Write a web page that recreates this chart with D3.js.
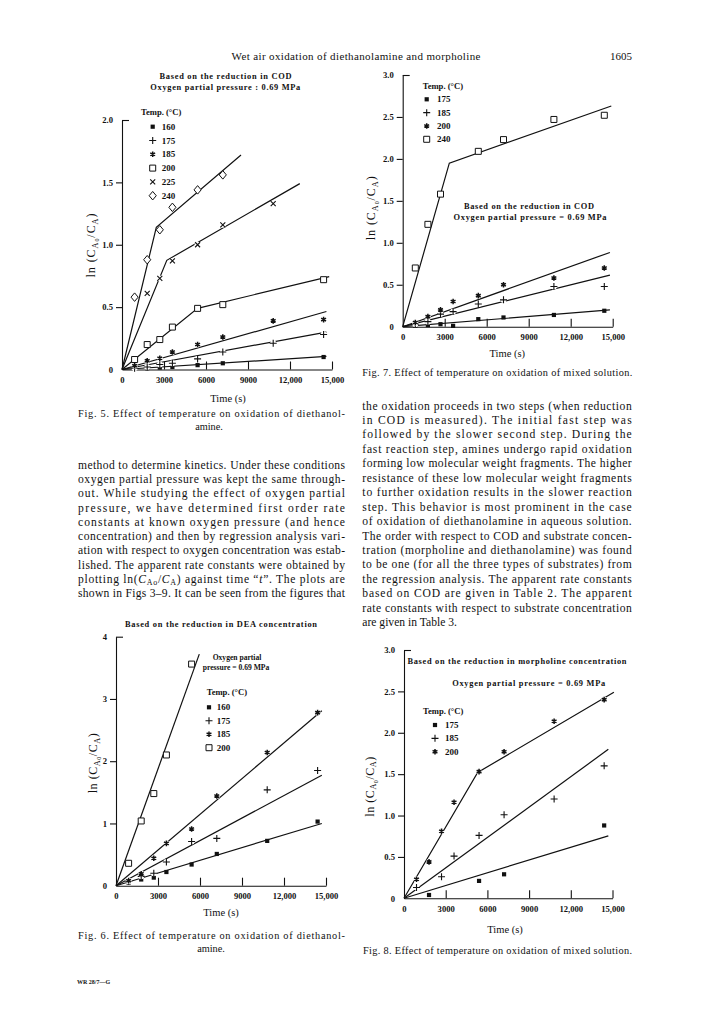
<!DOCTYPE html>
<html>
<head>
<meta charset="utf-8">
<script src="https://cdn.jsdelivr.net/npm/d3@7/dist/d3.min.js"></script>
<style>
  html, body { margin: 0; padding: 0; background: #fff; }
  svg { display: block; font-family: "Liberation Serif", "Times New Roman", serif; }
</style>
</head>
<body>
<svg id="page" width="711" height="1028"></svg>
<script>
// ---------- data (time in s, value = ln(CA0/CA)) ----------
const timeTicks = [0, 3000, 6000, 9000, 12000, 15000];

// Fig. 5 - DEA, COD based
const fig5Temps = ["160", "175", "185", "200", "225", "240"];
const fig5Pts160 = [[900, 0.005], [1800, 0.01], [2700, 0.015], [3600, 0.02], [5400, 0.035], [7200, 0.05], [14400, 0.10]];
const fig5Pts175 = [[900, 0.01], [1800, 0.02], [2700, 0.04], [3600, 0.05], [5400, 0.085], [7200, 0.14], [10800, 0.21], [14400, 0.28]];
const fig5Pts185 = [[900, 0.03], [1800, 0.07], [2700, 0.09], [3600, 0.14], [5400, 0.20], [7200, 0.26], [10800, 0.39], [14400, 0.40]];
const fig5Pts200 = [[900, 0.08], [1800, 0.20], [2700, 0.24], [3600, 0.34], [5400, 0.49], [7200, 0.52], [14400, 0.72]];
const fig5Pts225 = [[1800, 0.61], [2700, 0.73], [3600, 0.87], [5400, 1.00], [7200, 1.16], [10800, 1.33]];
const fig5Pts240 = [[900, 0.58], [1800, 0.88], [2700, 1.12], [3600, 1.30], [5400, 1.44], [7200, 1.56]];
const fig5Fit160 = [[0, 0], [14600, 0.105]];
const fig5Fit175 = [[0, 0], [14600, 0.30]];
const fig5Fit185 = [[0, 0], [14600, 0.465]];
const fig5Fit200 = [[0, 0], [5400, 0.49], [14800, 0.745]];
const fig5Fit225 = [[0, 0], [3200, 0.875], [12700, 1.49]];
const fig5Fit240 = [[0, 0], [2450, 1.14], [8500, 1.72]];

// Fig. 7 - mixed solution, COD based
const fig7Temps = ["175", "185", "200", "240"];
const fig7Pts175 = [[900, 0.01], [1800, 0.02], [2700, 0.03], [3600, 0.01], [5400, 0.09], [7200, 0.11], [10800, 0.14], [14400, 0.19]];
const fig7Pts185 = [[900, 0.03], [1800, 0.06], [2700, 0.15], [3600, 0.18], [5400, 0.27], [7200, 0.32], [10800, 0.48], [14400, 0.48]];
const fig7Pts200 = [[900, 0.05], [1800, 0.12], [2700, 0.20], [3600, 0.30], [5400, 0.37], [7200, 0.50], [10800, 0.58], [14400, 0.70]];
const fig7Pts240 = [[900, 0.70], [1800, 1.22], [2700, 1.58], [5400, 2.09], [7200, 2.23], [10800, 2.47], [14400, 2.52]];
const fig7Fit175 = [[0, 0], [14800, 0.20]];
const fig7Fit185 = [[0, 0], [14800, 0.615]];
const fig7Fit200 = [[0, 0], [14800, 0.885]];
const fig7Fit240 = [[0, 0], [3330, 1.95], [14900, 2.63]];

// Fig. 6 - DEA concentration based
const fig6Temps = ["160", "175", "185", "200"];
const fig6Pts160 = [[900, 0.05], [1800, 0.10], [2700, 0.13], [3600, 0.22], [5400, 0.34], [7200, 0.51], [10800, 0.72], [14400, 1.03]];
const fig6Pts175 = [[900, 0.07], [1800, 0.15], [2700, 0.20], [3600, 0.38], [5400, 0.71], [7200, 0.76], [10800, 1.54], [14400, 1.85]];
const fig6Pts185 = [[900, 0.08], [1800, 0.19], [2700, 0.44], [3600, 0.68], [5400, 0.91], [7200, 1.44], [10800, 2.14], [14400, 2.78]];
const fig6Pts200 = [[900, 0.36], [1800, 1.04], [2700, 1.48], [3600, 2.10], [5400, 3.56]];
const fig6Fit160 = [[0, 0], [14700, 1.00]];
const fig6Fit175 = [[0, 0], [14700, 1.775]];
const fig6Fit185 = [[0, 0], [14700, 2.81]];
const fig6Fit200 = [[0, 0], [5950, 3.72]];

// Fig. 8 - morpholine concentration based
const fig8Temps = ["175", "185", "200"];
const fig8Pts175 = [[1800, 0.04], [5400, 0.21], [7200, 0.29], [14400, 0.88]];
const fig8Pts185 = [[900, 0.13], [2700, 0.26], [3600, 0.51], [5400, 0.76], [7200, 1.01], [10800, 1.20], [14400, 1.60]];
const fig8Pts200 = [[900, 0.23], [1800, 0.44], [2700, 0.81], [3600, 1.16], [5400, 1.53], [7200, 1.77], [10800, 2.14], [14400, 2.40]];
const fig8Fit175 = [[0, 0], [14700, 0.755]];
const fig8Fit185 = [[0, 0], [14700, 1.80]];
const fig8Fit200 = [[0, 0], [5300, 1.52], [15100, 2.49]];

// ---------- page text ----------
const leftLines = [
  "method to determine kinetics. Under these conditions",
  "oxygen partial pressure was kept the same through-",
  "out. While studying the effect of oxygen partial",
  "pressure, we have determined first order rate",
  "constants at known oxygen pressure (and hence",
  "concentration) and then by regression analysis vari-",
  "ation with respect to oxygen concentration was estab-",
  "lished. The apparent rate constants were obtained by",
  null, // the ln(CAo/CA) line, built with tspans below
  "shown in Figs 3\u20139. It can be seen from the figures that"
];
const rightLines = [
  "the oxidation proceeds in two steps (when reduction",
  "in COD is measured). The initial fast step was",
  "followed by the slower second step. During the",
  "fast reaction step, amines undergo rapid oxidation",
  "forming low molecular weight fragments. The higher",
  "resistance of these low molecular weight fragments",
  "to further oxidation results in the slower reaction",
  "step. This behavior is most prominent in the case",
  "of oxidation of diethanolamine in aqueous solution.",
  "The order with respect to COD and substrate concen-",
  "tration (morpholine and diethanolamine) was found",
  "to be one (for all the three types of substrates) from",
  "the regression analysis. The apparent rate constants",
  "based on COD are given in Table 2. The apparent",
  "rate constants with respect to substrate concentration",
  "are given in Table 3."
];

const svg = d3.select("#page");
const ink = "#111";

// ---------- marker shapes (size = full width in px) ----------
const shapes = {
  sqFill: { draw(c, s) { const r = s / 2; c.rect(-r, -r, s, s); } },
  sqOpen: { draw(c, s) { const r = s / 2; c.rect(-r, -r, s, s); } },
  plus: { draw(c, s) { const r = s / 2; c.moveTo(-r, 0); c.lineTo(r, 0); c.moveTo(0, -r); c.lineTo(0, r); } },
  times: { draw(c, s) { const r = s / 2; c.moveTo(-r, -r); c.lineTo(r, r); c.moveTo(r, -r); c.lineTo(-r, r); } },
  star: { draw(c, s) {
    const r = s / 2;
    for (let k = 0; k < 3; k++) {
      const a = Math.PI / 2 + k * Math.PI / 3;
      c.moveTo(-r * Math.cos(a), -r * Math.sin(a));
      c.lineTo(r * Math.cos(a), r * Math.sin(a));
    }
  } },
  diamond: { draw(c, s) {
    const w = s * 0.42, h = s / 2;
    c.moveTo(0, -h); c.lineTo(w, 0); c.lineTo(0, h); c.lineTo(-w, 0); c.closePath();
  } }
};
const markStyle = {
  sqFill: { fill: ink, stroke: "none", size: 4.2, sw: 0, halo: 0 },
  sqOpen: { fill: "#fff", stroke: ink, size: 6, sw: 1, halo: 0 },
  diamond: { fill: "#fff", stroke: ink, size: 8.5, sw: 1, halo: 0 },
  plus: { fill: "none", stroke: ink, size: 7, sw: 1.1, halo: 3 },
  times: { fill: "none", stroke: ink, size: 5, sw: 1.1, halo: 3 },
  star: { fill: "none", stroke: ink, size: 5.6, sw: 1.5, halo: 3 }
};

function addSym(g, type, cx, cy, halo) {
  const st = markStyle[type];
  if (halo && st.halo) g.append("circle").attr("cx", cx).attr("cy", cy).attr("r", st.halo).attr("fill", "#fff");
  g.append("path")
    .attr("transform", `translate(${cx},${cy})`)
    .attr("d", d3.symbol().type(shapes[type]).size(st.size)())
    .attr("fill", st.fill)
    .attr("stroke", st.stroke)
    .attr("stroke-width", st.sw);
}

function plainText(str, x, y, size, opts = {}) {
  const t = svg.append("text")
    .attr("x", x).attr("y", y)
    .attr("font-size", size)
    .attr("fill", ink)
    .attr("text-anchor", opts.anchor || "start")
    .attr("font-weight", opts.bold ? "bold" : null)
    .text(str);
  if (opts.w) t.attr("textLength", opts.w).attr("lengthAdjust", "spacing");
  return t;
}

// y-axis title  ln (C_A0 / C_A), rotated
function yTitle(g, x, y, w) {
  const t = g.append("text")
    .attr("transform", `translate(${x},${y}) rotate(-90)`)
    .attr("text-anchor", "middle")
    .attr("font-size", 12)
    .attr("fill", ink)
    .attr("textLength", w).attr("lengthAdjust", "spacing");
  t.append("tspan").text("ln (C");
  t.append("tspan").attr("dy", 2.8).attr("font-size", 8.2).text("A");
  t.append("tspan").attr("dy", 1.6).attr("font-size", 6).text("0");
  t.append("tspan").attr("dy", -4.4).text("/C");
  t.append("tspan").attr("dy", 2.8).attr("font-size", 8.2).text("A");
  t.append("tspan").attr("dy", -2.8).text(")");
}

function drawPanel(p) {
  const g = svg.append("g");
  const x = d3.scaleLinear().domain([0, 15000]).range([p.x0, p.x1]);
  const y = d3.scaleLinear().domain([0, p.yMax]).range([p.y0, p.yTop]);
  const line = d3.line().x(d => x(d[0])).y(d => y(d[1]));

  const xa = g.append("g")
    .attr("transform", `translate(0,${p.y0})`)
    .call(d3.axisBottom(x).tickValues(timeTicks).tickSizeInner(-8).tickSizeOuter(0).tickPadding(7.5)
      .tickFormat(t => t >= 10000 ? d3.format(",")(t) : String(t)));
  const ya = g.append("g")
    .attr("transform", `translate(${p.x0},0)`)
    .call(d3.axisLeft(y).tickValues(p.yTicks).tickSizeInner(6).tickSizeOuter(0).tickPadding(3).tickFormat(p.yFmt));
  [xa, ya].forEach(a => {
    a.attr("font-family", null).attr("font-size", null);
    a.selectAll("text").attr("font-size", 8.6).attr("font-weight", "bold").attr("fill", ink);
    a.selectAll("line, path").attr("stroke", ink).attr("stroke-width", 1.1);
  });
  xa.selectAll(".tick").filter(d => d === 0).select("line").remove();
  ya.selectAll(".tick").filter(d => d === 0).select("line").remove();
  ya.selectAll(".tick").filter(d => d === p.yMax).select("line").attr("x2", 7);

  yTitle(g, p.yTitle[0], p.yTitle[1], p.yTitle[2]);
  g.append("text")
    .attr("x", p.timeLabel[0]).attr("y", p.timeLabel[1])
    .attr("text-anchor", "middle").attr("font-size", 10.5).attr("fill", ink)
    .text("Time (s)");

  // fitted lines
  p.series.forEach(s => {
    g.append("path").attr("d", line(s.fit))
      .attr("fill", "none").attr("stroke", ink).attr("stroke-width", 1.2);
  });
  // data points
  p.series.forEach(s => {
    s.pts.forEach(d => addSym(g, s.mark, x(d[0]), y(d[1]), true));
  });

  // legend
  const L = p.legend;
  g.append("text").attr("x", L.tx).attr("y", L.ty)
    .attr("font-size", 8.6).attr("font-weight", "bold").attr("fill", ink)
    .text("Temp. (\u00b0C)");
  p.series.forEach((s, i) => {
    const cy = L.row0 + i * L.step;
    addSym(g, s.mark, L.mx, cy, false);
    g.append("text").attr("x", L.lx).attr("y", cy + 3.1)
      .attr("font-size", 9).attr("font-weight", "bold").attr("fill", ink)
      .text(s.temp);
  });

  // annotations
  p.notes.forEach(n => {
    const t = g.append("text").attr("x", n.x).attr("y", n.y)
      .attr("text-anchor", "middle").attr("font-size", n.s || 8.4).attr("font-weight", "bold").attr("fill", ink)
      .text(n.t);
    if (n.w) t.attr("textLength", n.w).attr("lengthAdjust", "spacing");
  });
}

const fmtDec = d => d === 0 ? "0" : d.toFixed(1);

drawPanel({
  x0: 122, x1: 332, y0: 369.5, yTop: 120, yMax: 2,
  yTicks: [0, 0.5, 1, 1.5, 2], yFmt: fmtDec,
  yTitle: [95, 245.5, 64], timeLabel: [228, 401.5],
  legend: { tx: 141, ty: 115, mx: 152.7, lx: 161.7, row0: 126.7, step: 13.8 },
  series: [
    { temp: fig5Temps[0], mark: "sqFill", pts: fig5Pts160, fit: fig5Fit160 },
    { temp: fig5Temps[1], mark: "plus", pts: fig5Pts175, fit: fig5Fit175 },
    { temp: fig5Temps[2], mark: "star", pts: fig5Pts185, fit: fig5Fit185 },
    { temp: fig5Temps[3], mark: "sqOpen", pts: fig5Pts200, fit: fig5Fit200 },
    { temp: fig5Temps[4], mark: "times", pts: fig5Pts225, fit: fig5Fit225 },
    { temp: fig5Temps[5], mark: "diamond", pts: fig5Pts240, fit: fig5Fit240 }
  ],
  notes: [
    { t: "Based on the reduction in COD", x: 225.5, y: 78.5, w: 132 },
    { t: "Oxygen partial pressure : 0.69 MPa", x: 225.3, y: 90, w: 150 }
  ]
});

drawPanel({
  x0: 402.7, x1: 612.7, y0: 326.7, yTop: 75, yMax: 3,
  yTicks: [0, 0.5, 1, 1.5, 2, 2.5, 3], yFmt: fmtDec,
  yTitle: [375, 208.3, 64], timeLabel: [507.3, 356.5],
  legend: { tx: 422.7, ty: 89, mx: 426.7, lx: 437, row0: 99.3, step: 13.33 },
  series: [
    { temp: fig7Temps[0], mark: "sqFill", pts: fig7Pts175, fit: fig7Fit175 },
    { temp: fig7Temps[1], mark: "plus", pts: fig7Pts185, fit: fig7Fit185 },
    { temp: fig7Temps[2], mark: "star", pts: fig7Pts200, fit: fig7Fit200 },
    { temp: fig7Temps[3], mark: "sqOpen", pts: fig7Pts240, fit: fig7Fit240 }
  ],
  notes: [
    { t: "Based on the reduction in COD", x: 529, y: 208.5, w: 130 },
    { t: "Oxygen partial pressure = 0.69 MPa", x: 530, y: 219.5, w: 153 }
  ]
});

drawPanel({
  x0: 116, x1: 326, y0: 885.7, yTop: 636.7, yMax: 4,
  yTicks: [0, 1, 2, 3, 4], yFmt: d => String(d),
  yTitle: [97, 763.3, 60], timeLabel: [221, 916],
  legend: { tx: 206.7, ty: 694.7, mx: 209, lx: 216.7, row0: 707.3, step: 13.47 },
  series: [
    { temp: fig6Temps[0], mark: "sqFill", pts: fig6Pts160, fit: fig6Fit160 },
    { temp: fig6Temps[1], mark: "plus", pts: fig6Pts175, fit: fig6Fit175 },
    { temp: fig6Temps[2], mark: "star", pts: fig6Pts185, fit: fig6Fit185 },
    { temp: fig6Temps[3], mark: "sqOpen", pts: fig6Pts200, fit: fig6Fit200 }
  ],
  notes: [
    { t: "Based on the reduction in DEA concentration", x: 221, y: 627, w: 192 },
    { t: "Oxygen partial", x: 237, y: 659.5, s: 7.6 },
    { t: "pressure = 0.69 MPa", x: 236, y: 670, s: 7.6 }
  ]
});

drawPanel({
  x0: 404, x1: 612.5, y0: 898.3, yTop: 650, yMax: 3,
  yTicks: [0, 0.5, 1, 1.5, 2, 2.5, 3], yFmt: fmtDec,
  yTitle: [373.5, 786.7, 60], timeLabel: [505, 932.5],
  legend: { tx: 423, ty: 713.7, mx: 435, lx: 445, row0: 725, step: 13.35 },
  series: [
    { temp: fig8Temps[0], mark: "sqFill", pts: fig8Pts175, fit: fig8Fit175 },
    { temp: fig8Temps[1], mark: "plus", pts: fig8Pts185, fit: fig8Fit185 },
    { temp: fig8Temps[2], mark: "star", pts: fig8Pts200, fit: fig8Fit200 }
  ],
  notes: [
    { t: "Based on the reduction in morpholine concentration", x: 517, y: 663.5, w: 219 },
    { t: "Oxygen partial pressure = 0.69 MPa", x: 528.7, y: 685.5, w: 153 }
  ]
});

// ---------- running head, captions, body ----------
plainText("Wet air oxidation of diethanolamine and morpholine", 356, 60, 11, { anchor: "middle", w: 249 });
plainText("1605", 632, 60, 11, { anchor: "end" });

plainText("Fig. 5. Effect of temperature on oxidation of diethanol-", 78, 416.5, 10.3, { w: 267 });
plainText("amine.", 209, 430, 10.3, { anchor: "middle" });
plainText("Fig. 7. Effect of temperature on oxidation of mixed solution.", 362.3, 376, 10.3, { w: 270 });
plainText("Fig. 6. Effect of temperature on oxidation of diethanol-", 78, 939, 10.3, { w: 267 });
plainText("amine.", 211, 952, 10.3, { anchor: "middle" });
plainText("Fig. 8. Effect of temperature on oxidation of mixed solution.", 363, 954, 10.3, { w: 269 });
plainText("WR 28/7\u2014G", 77, 984, 6, { bold: true });

leftLines.forEach((s, i) => {
  const yy = 468.8 + i * 14.26;
  if (s !== null) { plainText(s, 78, yy, 11.6, { w: 267 }); return; }
  const t = svg.append("text").attr("x", 78).attr("y", yy).attr("font-size", 11.6).attr("fill", ink)
    .attr("textLength", 267).attr("lengthAdjust", "spacing");
  t.append("tspan").text("plotting ln(");
  t.append("tspan").attr("font-style", "italic").text("C");
  t.append("tspan").attr("dy", 2.5).attr("font-size", 8).text("Ao");
  t.append("tspan").attr("dy", -2.5).text("/");
  t.append("tspan").attr("font-style", "italic").text("C");
  t.append("tspan").attr("dy", 2.5).attr("font-size", 8).text("A");
  t.append("tspan").attr("dy", -2.5).text(") against time \u201c");
  t.append("tspan").attr("font-style", "italic").text("t");
  t.append("tspan").text("\u201d. The plots are");
});

rightLines.forEach((s, i) => {
  const last = i === rightLines.length - 1;
  plainText(s, 362.3, 409.5 + i * 14.45, 11.6, last ? {} : { w: 269.4 });
});
</script>
</body>
</html>
